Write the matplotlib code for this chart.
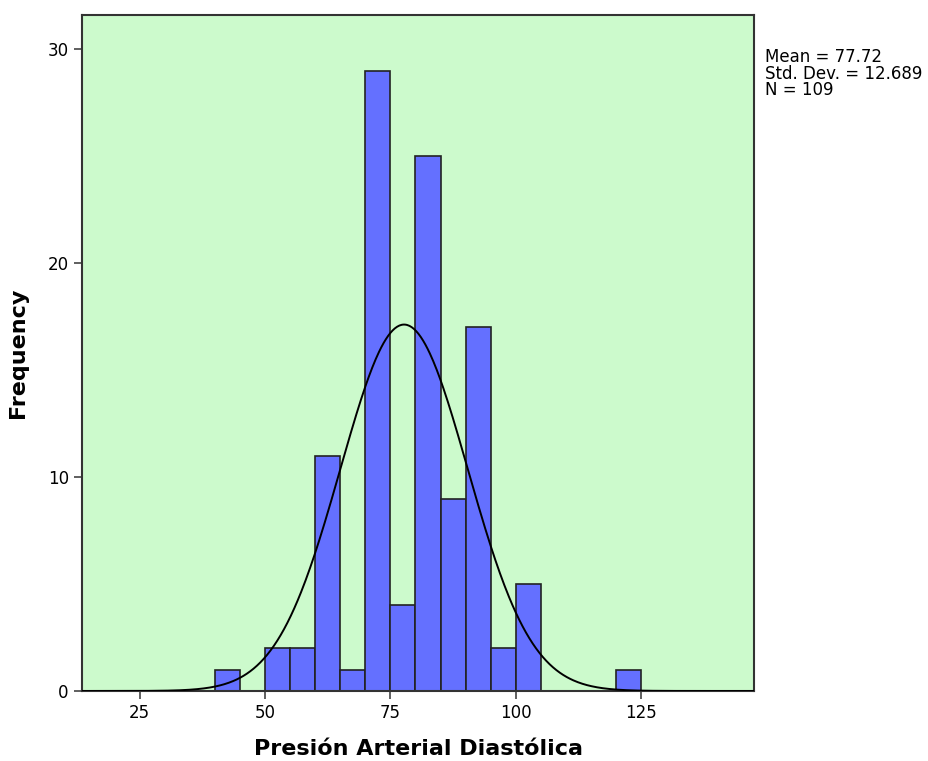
import numpy as np
import matplotlib
matplotlib.use("Agg")
import matplotlib.pyplot as plt

bin_edges = [40, 45, 50, 55, 60, 65, 70, 75, 80, 85, 90, 95, 100, 105, 110, 115, 120, 125]
counts = [1, 0, 2, 2, 11, 1, 29, 4, 25, 9, 17, 2, 5, 0, 0, 0, 1]
mean, sd, n = 77.72, 12.689, 109
xticks = [25, 50, 75, 100, 125]
yticks = [0, 10, 20, 30]

fig = plt.figure(figsize=(9.29, 7.61), dpi=100)
ax = fig.add_axes([0.0883, 0.092, 0.7233, 0.888])
ax.set_facecolor("#CCFACC")

lefts = np.array(bin_edges[:-1])
widths = np.diff(bin_edges)
ax.bar(lefts, counts, width=widths, align="edge", color="#6470FF",
       edgecolor="#222222", linewidth=1.2, zorder=2)

xs = np.linspace(13, 148, 600)
bw = 5
ys = n * bw / (sd * np.sqrt(2 * np.pi)) * np.exp(-0.5 * ((xs - mean) / sd) ** 2)
ax.plot(xs, ys, color="black", linewidth=1.4, zorder=3)

ax.set_xlim(13.5, 147.5)
ax.set_ylim(0, 31.6)
ax.set_xticks(xticks)
ax.set_yticks(yticks)
ax.tick_params(axis="both", direction="out", length=6, width=1.2, labelsize=12, color="#444444")
for s in ax.spines.values():
    s.set_linewidth(1.5)
    s.set_color("#333333")
ax.set_xlabel("Presión Arterial Diastólica", fontsize=16, fontweight="bold", labelpad=12)
ax.set_ylabel("Frequency", fontsize=16, fontweight="bold", labelpad=14)

fig.text(0.823, 0.937, f"Mean = {mean:.2f}\nStd. Dev. = {sd:.3f}\nN = {n}",
         fontsize=12, va="top", ha="left", linespacing=0.9)

fig.savefig("out.png", dpi=100)
